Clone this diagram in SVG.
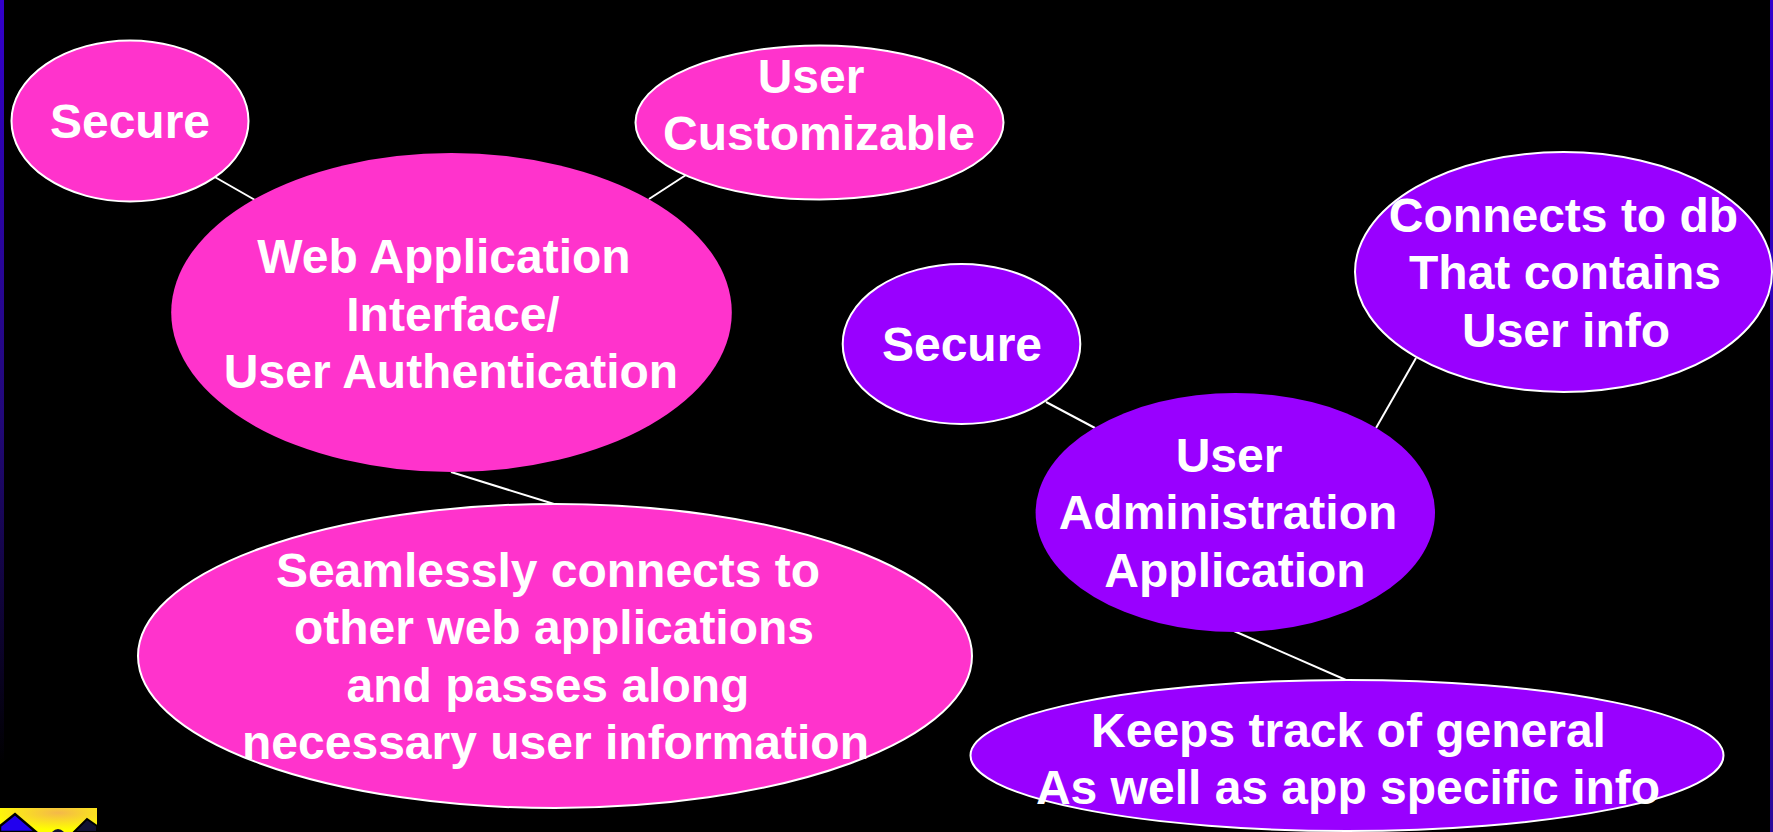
<svg xmlns="http://www.w3.org/2000/svg" width="1773" height="832" viewBox="0 0 1773 832">
<defs>
<style>
.pink{fill:#FF33CC}
.purple{fill:#9900FF}
.sat{stroke:#FFFFFF;stroke-width:2}
.lbl{font-family:"Liberation Sans",Arial,sans-serif;font-weight:bold;font-size:48px;fill:#FFFFFF;text-anchor:middle}
.conn line{stroke:#FFFFFF;stroke-width:2}
</style>
<linearGradient id="edgeL" x1="0" y1="0" x2="0" y2="1">
<stop offset="0" stop-color="#3300CC"/>
<stop offset="0.5" stop-color="#22087a"/>
<stop offset="0.92" stop-color="#000000"/>
</linearGradient>
<linearGradient id="edgeR" x1="0" y1="0" x2="0" y2="1">
<stop offset="0" stop-color="#3300CC"/>
<stop offset="1" stop-color="#2a0a9a"/>
</linearGradient>
<radialGradient id="logoBg" cx="0.6" cy="0.2" r="0.7">
<stop offset="0" stop-color="#F4B84A"/>
<stop offset="1" stop-color="#FFFF00"/>
</radialGradient>
</defs>
<rect x="0" y="0" width="1773" height="832" fill="#000000"/>
<rect x="0" y="0" width="4" height="832" fill="url(#edgeL)"/>
<rect x="1770" y="0" width="3" height="832" fill="url(#edgeR)"/>

<g id="logo">
<rect x="0" y="808" width="97" height="24" fill="url(#logoBg)"/>
<path d="M0,832 L0,826 L15,814 L36,832 Z" fill="#2200EE" stroke="#000000" stroke-width="2.5"/>
<path d="M74,832 L87,819 L97,826 L97,832 Z" fill="#111133" stroke="#000000" stroke-width="2"/>
<path d="M52,832 Q58,826 64,832 Z" fill="#111133"/>
</g>

<g class="conn" id="connectors">
<line x1="213" y1="176" x2="255" y2="200"/>
<line x1="689" y1="173" x2="649" y2="199"/>
<line x1="451" y1="472" x2="554" y2="504"/>
<line x1="1046" y1="402" x2="1095" y2="428"/>
<line x1="1416" y1="358" x2="1376" y2="428"/>
<line x1="1234" y1="631" x2="1346" y2="680"/>
</g>

<g id="secure-left">
<ellipse class="pink sat" cx="130" cy="121" rx="118.5" ry="80.5"/>
<text class="lbl" x="130" y="138">Secure</text>
</g>

<g id="user-customizable">
<ellipse class="pink sat" cx="819.5" cy="122.5" rx="184" ry="77"/>
<text class="lbl" x="811" y="93">User</text>
<text class="lbl" x="819" y="150">Customizable</text>
</g>

<g id="web-app">
<ellipse class="pink" cx="451.5" cy="312.5" rx="280.3" ry="159.5"/>
<text class="lbl" x="444" y="273">Web Application</text>
<text class="lbl" x="453" y="331">Interface/</text>
<text class="lbl" x="451" y="388">User Authentication</text>
</g>

<g id="seamless">
<ellipse class="pink sat" cx="555" cy="656" rx="417" ry="152"/>
<text class="lbl" x="548" y="587">Seamlessly connects to</text>
<text class="lbl" x="554" y="644">other web applications</text>
<text class="lbl" x="548" y="702">and passes along</text>
<text class="lbl" x="555.5" y="759">necessary user information</text>
</g>

<g id="secure-right">
<ellipse class="purple sat" cx="961.5" cy="344" rx="118.8" ry="80"/>
<text class="lbl" x="962" y="361">Secure</text>
</g>

<g id="connects-db">
<ellipse class="purple sat" cx="1563.5" cy="272" rx="208.5" ry="120"/>
<text class="lbl" x="1563.5" y="232">Connects to db</text>
<text class="lbl" x="1565" y="289">That contains</text>
<text class="lbl" x="1566" y="347">User info</text>
</g>

<g id="user-admin">
<ellipse class="purple" cx="1235.3" cy="512.5" rx="199.7" ry="119.5"/>
<text class="lbl" x="1229" y="472">User</text>
<text class="lbl" x="1228" y="529">Administration</text>
<text class="lbl" x="1235" y="587">Application</text>
</g>

<g id="keeps-track">
<ellipse class="purple sat" cx="1347" cy="755.5" rx="376.5" ry="75.5"/>
<text class="lbl" x="1348.5" y="747">Keeps track of general</text>
<text class="lbl" x="1348" y="804">As well as app specific info</text>
</g>
</svg>
